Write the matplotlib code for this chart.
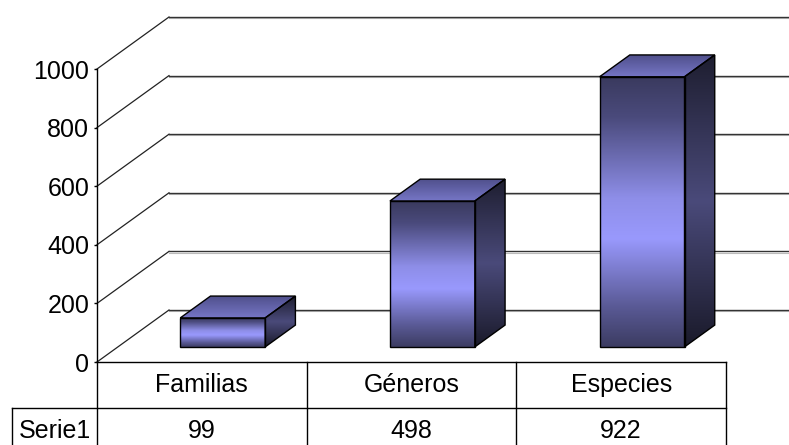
import numpy as np
import matplotlib
matplotlib.use("Agg")
import matplotlib.pyplot as plt
from matplotlib.colors import LinearSegmentedColormap
from matplotlib.patches import Polygon

CATEGORIES = ["Familias", "Géneros", "Especies"]
VALUES = [99, 498, 922]
SERIES_NAME = "Serie1"
Y_TICKS = [0, 200, 400, 600, 800, 1000]

OUT_PATH = "out.png"

# figure and front plane of the plot, in pixels
W_PX, H_PX = 789, 445
LEFT_PX, RIGHT_PX = 97, 726
BOTTOM_PX, TOP_PX = 362, 69

Y_MAX = 1000
N_CAT = len(CATEGORIES)
PX_PER_CAT = (RIGHT_PX - LEFT_PX) / N_CAT
PX_PER_VAL = (BOTTOM_PX - TOP_PX) / Y_MAX

# 3d depth offset of the back wall, converted to data units
DEPTH_X = 72 / PX_PER_CAT
DEPTH_Y = 52 / PX_PER_VAL

BAR_W = 0.405
BAR_D0, BAR_D1 = 0.29, 0.71

ROW_H = 46 / PX_PER_VAL
LABEL_COL_X = (12 - LEFT_PX) / PX_PER_CAT

FONT = "Liberation Sans"
FONT_SIZE = 18

FRONT_CMAP = LinearSegmentedColormap.from_list("front", [
    (0.0, "#3a3a5e"), (0.15, "#4a4a7c"), (0.45, "#8e8ee8"),
    (0.6, "#9999fd"), (0.85, "#5a5a96"), (1.0, "#3c3c62")])
SIDE_CMAP = LinearSegmentedColormap.from_list("side", [
    (0.0, "#1e1e30"), (0.5, "#4a4a7a"), (1.0, "#1a1a2a")])
TOP_CMAP = LinearSegmentedColormap.from_list("top", [
    (0.0, "#50508c"), (1.0, "#7676c6")])


def proj(x, v, d):
    return x + d * DEPTH_X, v + d * DEPTH_Y


def gradient_face(ax, pts, cmap, z):
    pts = np.asarray(pts)
    x0, x1 = pts[:, 0].min(), pts[:, 0].max()
    y0, y1 = pts[:, 1].min(), pts[:, 1].max()
    grad = np.linspace(0, 1, 256).reshape(-1, 1)
    im = ax.imshow(grad, extent=[x0, x1, y0, y1], cmap=cmap, aspect="auto",
                   origin="upper", interpolation="bilinear", zorder=z)
    poly = Polygon(pts, closed=True, facecolor="none", edgecolor="black",
                   linewidth=1.0, zorder=z + 0.5, clip_on=False)
    ax.add_patch(poly)
    im.set_clip_path(poly)
    im.set_clip_box(ax.figure.bbox)


def draw_grid(ax):
    x_end = N_CAT + DEPTH_X
    for v in Y_TICKS:
        bx, by = proj(0, v, 1)
        ax.plot([0, bx], [v, by], color="#222222", lw=0.9, zorder=1, clip_on=False)
        ax.plot([bx, x_end], [by, by], color="#333333", lw=1.0, zorder=1, clip_on=False)
        ax.plot([bx, x_end], [by - 1.2 / PX_PER_VAL] * 2, color="#bbbbbb", lw=0.8,
                zorder=0.9, clip_on=False)


def draw_bars(ax):
    for i, v in enumerate(VALUES):
        xl = i + 0.5 - BAR_W / 2 + BAR_D0 * DEPTH_X
        xr = xl + BAR_W
        yb = BAR_D0 * DEPTH_Y
        yt = v + yb
        dx = (BAR_D1 - BAR_D0) * DEPTH_X
        dy = (BAR_D1 - BAR_D0) * DEPTH_Y
        gradient_face(ax, [(xl, yb), (xr, yb), (xr, yt), (xl, yt)], FRONT_CMAP, 3)
        gradient_face(ax, [(xr, yb), (xr + dx, yb + dy), (xr + dx, yt + dy), (xr, yt)],
                      SIDE_CMAP, 3)
        gradient_face(ax, [(xl, yt), (xr, yt), (xr + dx, yt + dy), (xl + dx, yt + dy)],
                      TOP_CMAP, 3)


def draw_table(ax):
    kw = dict(color="black", lw=1.0, clip_on=False, zorder=2)
    bottom = -2.2 * ROW_H
    ax.plot([0, N_CAT], [0, 0], **kw)
    ax.plot([LABEL_COL_X, N_CAT], [-ROW_H, -ROW_H], **kw)
    ax.plot([LABEL_COL_X, LABEL_COL_X], [-ROW_H, bottom], **kw)
    for x in range(N_CAT + 1):
        ax.plot([x, x], [0 if x else Y_MAX, bottom], **kw)

    txt = dict(ha="center", va="center", fontsize=FONT_SIZE, family=FONT)
    for i, (cat, v) in enumerate(zip(CATEGORIES, VALUES)):
        ax.text(i + 0.5, -0.5 * ROW_H, cat, **txt)
        ax.text(i + 0.5, -1.5 * ROW_H, f"{v}", **txt)
    ax.text(LABEL_COL_X / 2, -1.5 * ROW_H, SERIES_NAME, **txt)


def main() -> None:
    fig = plt.figure(figsize=(W_PX / 100, H_PX / 100), dpi=100)
    ax = fig.add_axes([LEFT_PX / W_PX, (H_PX - BOTTOM_PX) / H_PX,
                       (RIGHT_PX - LEFT_PX) / W_PX, (BOTTOM_PX - TOP_PX) / H_PX])
    ax.set_facecolor("none")

    draw_grid(ax)
    draw_bars(ax)
    draw_table(ax)

    ax.set_xlim(0, N_CAT)
    ax.set_ylim(0, Y_MAX)
    for side in ["top", "right", "bottom", "left"]:
        ax.spines[side].set_visible(False)
    ax.set_xticks([])
    ax.set_yticks(Y_TICKS)
    ax.set_yticklabels([str(t) for t in Y_TICKS], fontsize=FONT_SIZE, family=FONT)
    ax.tick_params(axis="y", direction="out", length=2.5, width=1.0, pad=3)

    fig.savefig(OUT_PATH, dpi=100)
    plt.close(fig)


if __name__ == "__main__":
    main()
